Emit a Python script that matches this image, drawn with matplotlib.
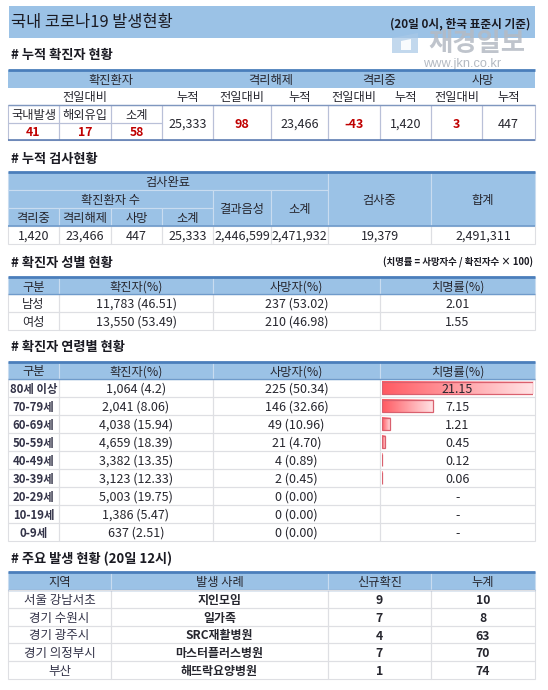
import matplotlib
matplotlib.use('Agg')
import numpy as np
import matplotlib.pyplot as plt
from matplotlib.colors import LinearSegmentedColormap
from matplotlib.patches import Rectangle, Polygon

plt.rcParams['font.family'] = ['Noto Sans CJK KR', 'DejaVu Sans']

# data
title = '국내 코로나19 발생현황'
title_note = '(20일 0시, 한국 표준시 기준)'
sections = ['# 누적 확진자 현황', '# 누적 검사현황', '# 확진자 성별 현황', '# 확진자 연령별 현황', '# 주요 발생 현황 (20일 12시)']
cfr_note = '(치명률 = 사망자수 / 확진자수 × 100)'

case_groups = ['확진환자', '격리해제', '격리중', '사망']
case_subheads = ['전일대비', '누적', '전일대비', '누적', '전일대비', '누적', '전일대비', '누적']
new_labels = ['국내발생', '해외유입', '소계']
new_values = ['41', '17', '58']
case_values = ['25,333', '98', '23,466', '-43', '1,420', '3', '447']

test_parts = ['격리중', '격리해제', '사망', '소계']
test_values = ['1,420', '23,466', '447', '25,333', '2,446,599', '2,471,932', '19,379', '2,491,311']

table_heads = ['구분', '확진자(%)', '사망자(%)', '치명률(%)']
sexes = ['남성', '여성']
sex_cases = ['11,783 (46.51)', '13,550 (53.49)']
sex_deaths = ['237 (53.02)', '210 (46.98)']
sex_cfr = ['2.01', '1.55']

ages = ['80세 이상', '70-79세', '60-69세', '50-59세', '40-49세', '30-39세', '20-29세', '10-19세', '0-9세']
age_cases = ['1,064 (4.2)', '2,041 (8.06)', '4,038 (15.94)', '4,659 (18.39)', '3,382 (13.35)',
             '3,123 (12.33)', '5,003 (19.75)', '1,386 (5.47)', '637 (2.51)']
age_deaths = ['225 (50.34)', '146 (32.66)', '49 (10.96)', '21 (4.70)', '4 (0.89)',
              '2 (0.45)', '0 (0.00)', '0 (0.00)', '0 (0.00)']
age_cfr = [21.15, 7.15, 1.21, 0.45, 0.12, 0.06, None, None, None]

outbreak_heads = ['지역', '발생 사례', '신규확진', '누계']
regions = ['서울 강남서초', '경기 수원시', '경기 광주시', '경기 의정부시', '부산']
outbreaks = ['지인모임', '일가족', 'SRC재활병원', '마스터플러스병원', '해뜨락요양병원']
new_cases = ['9', '7', '4', '7', '1']
total_cases = ['10', '8', '63', '70', '74']

# style
BLUE = '#9BC2E6'
TOP = '#4A7EBB'
GRID = '#DEDFE3'
TEXT = '#26262E'
RED = '#C00000'
X = [8, 59, 111, 162, 213, 271, 328, 380, 431, 482, 535]
X_SEX = [8, 59, 213, 380, 535]
X_OUT = [8, 111, 328, 431, 535]

fig = plt.figure(figsize=(5.48, 6.90), dpi=100, facecolor='white')
ax = fig.add_axes([0, 0, 1, 1])
ax.set_xlim(0, 548)
ax.set_ylim(690, 0)
ax.axis('off')


def cell(x0, x1, y0, y1, label='', fill=None, edge=GRID, color=TEXT, weight='normal', size=8.8):
    if fill or edge:
        ax.add_patch(Rectangle((x0, y0), x1 - x0, y1 - y0, facecolor=fill or 'none',
                               edgecolor=edge or 'none', lw=0.8, zorder=2))
    if label != '':
        ax.text((x0 + x1) / 2, (y0 + y1) / 2, label, ha='center', va='center_baseline',
                color=color, fontweight=weight, fontsize=size, zorder=5)


def rule(y, x0=8, x1=535, color=TOP, lw=2.0):
    ax.plot([x0, x1], [y, y], color=color, lw=lw, solid_capstyle='butt', zorder=4)


# banner
ax.add_patch(Rectangle((9, 6), 526, 32, facecolor=BLUE, edgecolor='none', zorder=1))
ax.text(11, 20.5, title, ha='left', va='center_baseline', fontsize=11.8, color='#1A1A22', zorder=5)
ax.text(530, 22, title_note, ha='right', va='center_baseline', fontsize=8.4, color='#1A1A22',
        fontweight='bold', zorder=5)

# watermark
ax.add_patch(Polygon([[392, 38], [418, 33], [418, 53], [392, 53]], facecolor='#A9C8E6', edgecolor='none', alpha=0.7, zorder=3))
ax.add_patch(Polygon([[401, 41], [411, 39], [411, 50], [401, 50]], facecolor='white', edgecolor='none', alpha=0.9, zorder=3))
ax.text(477, 43.5, '재경일보', ha='center', va='center', fontsize=19, fontweight='bold', color='#B4BAC3', alpha=0.85, zorder=3)
ax.text(462, 64, 'www.jkn.co.kr', ha='center', va='center', fontsize=9.2, color='#B4BAC2', zorder=3,
        family=['Liberation Sans', 'DejaVu Sans'])

# section labels
for label, y in zip(sections, [54, 157, 261, 345, 557]):
    ax.text(11, y, label, ha='left', va='center_baseline', fontsize=9.5, fontweight='bold', color='#1A1A22', zorder=5)
ax.text(533, 261, cfr_note, ha='right', va='center_baseline', fontsize=6.8, fontweight='bold', color='#1A1A22', zorder=5)

# table 1
edge1 = '#B9C0D8'
group_edges = [(X[0], X[4]), (X[4], X[6]), (X[6], X[8]), (X[8], X[10])]
for (x0, x1), label in zip(group_edges, case_groups):
    cell(x0, x1, 70, 88, label, fill=BLUE, edge=None)
cell(X[0], X[3], 88, 105, case_subheads[0], edge=None)
for i, label in enumerate(case_subheads[1:]):
    cell(X[3 + i], X[4 + i], 88, 105, label, edge=None)
for i in range(3):
    cell(X[i], X[i + 1], 105, 123, new_labels[i], edge=edge1)
    cell(X[i], X[i + 1], 123, 140, new_values[i], edge=edge1, color=RED, weight='bold')
for i, value in enumerate(case_values):
    red = i in (1, 3, 5)
    cell(X[3 + i], X[4 + i], 105, 140, value, edge=edge1, color=RED if red else TEXT,
         weight='bold' if red else 'normal', size=9)
rule(70)
rule(105, color='#7F97BF', lw=1.0)
rule(140, color='#5F7FB3', lw=1.2)

# table 2
head_edge = '#C9DCF0'
cell(X[0], X[6], 172, 190, '검사완료', fill=BLUE, edge=head_edge)
cell(X[0], X[4], 190, 208, '확진환자 수', fill=BLUE, edge=head_edge)
for i, label in enumerate(test_parts):
    cell(X[i], X[i + 1], 208, 226, label, fill=BLUE, edge=head_edge)
cell(X[4], X[5], 190, 226, '결과음성', fill=BLUE, edge=head_edge)
cell(X[5], X[6], 190, 226, '소계', fill=BLUE, edge=head_edge)
cell(X[6], X[8], 172, 226, '검사중', fill=BLUE, edge=head_edge)
cell(X[8], X[10], 172, 226, '합계', fill=BLUE, edge=head_edge)
test_x = [X[0], X[1], X[2], X[3], X[4], X[5], X[6], X[8], X[10]]
for i, value in enumerate(test_values):
    cell(test_x[i], test_x[i + 1], 226, 244, value, size=9)
rule(172)
rule(226, color='#6F9BCB', lw=1.2)


def head_row(y0, y1, xs, heads):
    for i, label in enumerate(heads):
        cell(xs[i], xs[i + 1], y0, y1, label, fill=BLUE, edge=head_edge)
    rule(y0, lw=2.0)
    rule(y1, color='#6F9BCB', lw=1.0)


# table 3
head_row(277, 294, X_SEX, table_heads)
for r, sex in enumerate(sexes):
    y0 = 294 + r * 18
    cell(X_SEX[0], X_SEX[1], y0, y0 + 18, sex)
    cell(X_SEX[1], X_SEX[2], y0, y0 + 18, sex_cases[r], size=9)
    cell(X_SEX[2], X_SEX[3], y0, y0 + 18, sex_deaths[r], size=9)
    cell(X_SEX[3], X_SEX[4], y0, y0 + 18, sex_cfr[r], size=9)

# table 4
age_top = 379
row_h = 18
head_row(362, age_top, X_SEX, table_heads)
for r, age in enumerate(ages):
    y0 = age_top + r * row_h
    cell(X_SEX[0], X_SEX[1], y0, y0 + row_h, age, weight='bold', size=8.2, color='#333348')
    cell(X_SEX[1], X_SEX[2], y0, y0 + row_h, age_cases[r], size=9)
    cell(X_SEX[2], X_SEX[3], y0, y0 + row_h, age_deaths[r], size=9)
    cell(X_SEX[3], X_SEX[4], y0, y0 + row_h, size=9)

# fatality bars get their own axes so the length comes from the value scale
bar_left, bar_right = 381.5, 533
bar_top, bar_bottom = age_top, age_top + len(ages) * row_h
ax_bar = fig.add_axes([bar_left / 548, 1 - bar_bottom / 690, (bar_right - bar_left) / 548, (bar_bottom - bar_top) / 690])
ax_bar.patch.set_alpha(0)
ax_bar.axis('off')
cfr_cmap = LinearSegmentedColormap.from_list('cfr', ['#FF5A62', '#FFE4E6'])
gradient = np.linspace(0, 1, 128).reshape(1, -1)
cfr_mid = (X_SEX[3] + X_SEX[4]) / 2
for r, value in enumerate(age_cfr):
    y_mid = age_top + r * row_h + row_h / 2
    if value is None:
        ax_bar.text(cfr_mid, y_mid, '-', transform=ax.transData,
                    ha='center', va='center_baseline', fontsize=9, color=TEXT, zorder=5)
        continue
    ax_bar.imshow(gradient, cmap=cfr_cmap, aspect='auto', extent=(0, value, r + 0.36, r - 0.36), zorder=1)
    ax_bar.barh(r, value, height=0.72, facecolor='none', edgecolor='#D9606E', lw=0.9, zorder=2)
    ax_bar.text(cfr_mid, y_mid, f'{value:.2f}', transform=ax.transData,
                ha='center', va='center_baseline', fontsize=9, color=TEXT, zorder=5)
ax_bar.set_xlim(0, max(v for v in age_cfr if v is not None))
ax_bar.set_ylim(len(ages) - 0.5, -0.5)

# table 5
head_row(572, 590, X_OUT, outbreak_heads)
rule(590, color=GRID, lw=0.8)
for r, region in enumerate(regions):
    y0 = 590 + r * 17.8
    y1 = y0 + 17.8
    cell(X_OUT[0], X_OUT[1], y0, y1, region, size=9, color='#333348')
    cell(X_OUT[1], X_OUT[2], y0, y1, outbreaks[r], weight='bold', size=8.6)
    cell(X_OUT[2], X_OUT[3], y0, y1, new_cases[r], weight='bold', size=8.8)
    cell(X_OUT[3], X_OUT[4], y0, y1, total_cases[r], weight='bold', size=8.8)

fig.savefig('out.png', dpi=100, facecolor='white')
